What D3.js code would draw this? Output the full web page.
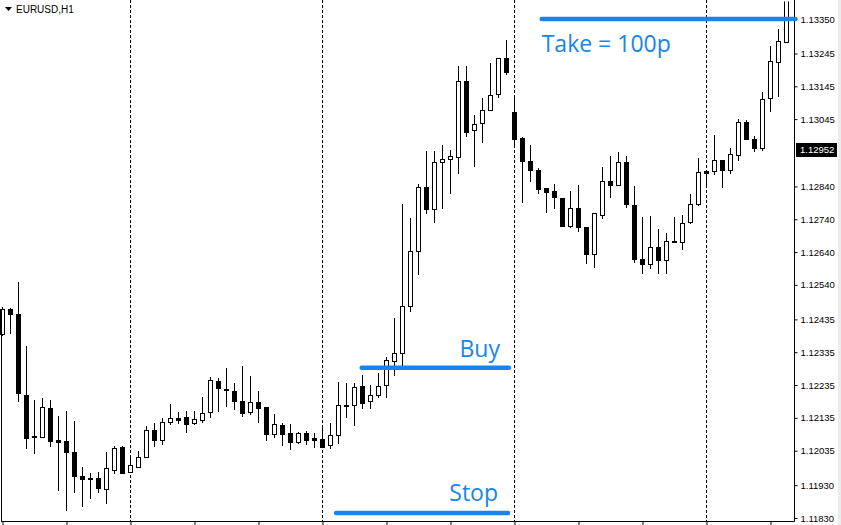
<!DOCTYPE html>
<html><head><meta charset="utf-8">
<script src="https://cdn.jsdelivr.net/npm/d3@7/dist/d3.min.js"></script>
<style>body{margin:0;background:#fff}svg{display:block}</style>
</head><body>
<svg id="c" width="841" height="525"></svg>
<script>
const symbolLabel = "EURUSD,H1";
const opens  = [1.12391,1.12467,1.12451,1.12205,1.12081,1.12078,1.12165,1.12068,1.12065,1.12031,1.11957,1.11952,1.11952,1.11919,1.11976,1.12046,1.11969,1.11986,1.12017,1.12098,1.12067,1.12121,1.12134,1.12137,1.12120,1.12129,1.12152,1.12246,1.12222,1.12216,1.12185,1.12154,1.12182,1.12167,1.12087,1.12112,1.12089,1.12062,1.12089,1.12075,1.12070,1.12051,1.12082,1.12171,1.12173,1.12231,1.12185,1.12204,1.12234,1.12308,1.12332,1.12475,1.12642,1.12837,1.12772,1.12913,1.12923,1.12929,1.13160,1.13011,1.13032,1.13074,1.13121,1.13230,1.13066,1.12987,1.12918,1.12890,1.12834,1.12826,1.12804,1.12720,1.12773,1.12716,1.12635,1.12754,1.12856,1.12843,1.12913,1.12782,1.12618,1.12603,1.12655,1.12615,1.12670,1.12670,1.12731,1.12786,1.12886,1.12886,1.12920,1.12889,1.12935,1.13035,1.12984,1.12956,1.13108,1.13219,1.13279];
const highs  = [1.12473,1.12471,1.12550,1.12354,1.12189,1.12196,1.12189,1.12142,1.12156,1.12125,1.11984,1.11966,1.11970,1.12031,1.12049,1.12049,1.12017,1.12035,1.12110,1.12119,1.12134,1.12177,1.12153,1.12156,1.12156,1.12199,1.12260,1.12256,1.12286,1.12240,1.12293,1.12263,1.12216,1.12167,1.12147,1.12119,1.12116,1.12092,1.12095,1.12089,1.12106,1.12118,1.12243,1.12240,1.12240,1.12265,1.12234,1.12272,1.12320,1.12438,1.12786,1.12743,1.12847,1.12948,1.12948,1.12965,1.12951,1.13207,1.13207,1.13058,1.13108,1.13216,1.13230,1.13286,1.13118,1.12990,1.12965,1.12895,1.12834,1.12846,1.12804,1.12826,1.12844,1.12716,1.12758,1.12898,1.12932,1.12944,1.12932,1.12840,1.12746,1.12749,1.12709,1.12697,1.12746,1.12752,1.12816,1.12926,1.12886,1.12997,1.12920,1.12956,1.13044,1.13041,1.12993,1.13127,1.13267,1.13319,1.13440];
const lows   = [1.12387,1.12394,1.12187,1.12044,1.12027,1.12076,1.12050,1.11915,1.11854,1.11910,1.11867,1.11892,1.11908,1.11877,1.11968,1.11966,1.11969,1.11986,1.12017,1.12050,1.12056,1.12115,1.12118,1.12093,1.12116,1.12121,1.12139,1.12156,1.12172,1.12162,1.12142,1.12147,1.12123,1.12069,1.12078,1.12053,1.12041,1.12058,1.12056,1.12047,1.12045,1.12042,1.12059,1.12137,1.12114,1.12166,1.12166,1.12199,1.12200,1.12267,1.12296,1.12461,1.12574,1.12758,1.12733,1.12775,1.12821,1.12882,1.12995,1.12901,1.12976,1.13074,1.13113,1.13182,1.12959,1.12793,1.12857,1.12821,1.12763,1.12775,1.12720,1.12716,1.12705,1.12608,1.12596,1.12745,1.12809,1.12843,1.12778,1.12611,1.12577,1.12591,1.12577,1.12577,1.12670,1.12649,1.12728,1.12782,1.12841,1.12877,1.12839,1.12880,1.12920,1.12984,1.12947,1.12950,1.13069,1.13115,1.13279];
const closes = [1.12467,1.12450,1.12212,1.12075,1.12076,1.12168,1.12065,1.12062,1.12032,1.11959,1.11950,1.11949,1.11920,1.11981,1.12042,1.11966,1.11991,1.12015,1.12098,1.12067,1.12122,1.12134,1.12129,1.12117,1.12131,1.12150,1.12249,1.12225,1.12219,1.12185,1.12151,1.12182,1.12166,1.12087,1.12116,1.12087,1.12062,1.12089,1.12069,1.12067,1.12047,1.12082,1.12173,1.12174,1.12230,1.12181,1.12204,1.12233,1.12310,1.12332,1.12475,1.12642,1.12837,1.12772,1.12913,1.12923,1.12932,1.13160,1.13007,1.13030,1.13074,1.13118,1.13230,1.13189,1.12984,1.12916,1.12889,1.12833,1.12822,1.12807,1.12720,1.12773,1.12716,1.12635,1.12758,1.12856,1.12843,1.12913,1.12786,1.12618,1.12603,1.12655,1.12615,1.12673,1.12673,1.12728,1.12786,1.12883,1.12880,1.12920,1.12889,1.12938,1.13035,1.12984,1.12956,1.13105,1.13221,1.13282,1.13420];
const priceTicks = [1.13350,1.13245,1.13145,1.13045,1.12840,1.12740,1.12640,1.12540,1.12435,1.12335,1.12235,1.12135,1.12035,1.11930,1.11830];
const currentPrice = 1.12952;
const separators = [16,40,64,88];
const timeTicks = [0,8,16,24,32,40,48,56,64,72,80,88,96];
const levelNames  = ["Take = 100p","Buy","Stop"];
const levelPrices = [1.13350,1.12288,1.11845];
const levelFrom   = [67.4,44.9,41.7];
const levelTo     = [99.1,63.3,63.2];

const svg = d3.select("#c");
const W = 841, H = 525;
const plotRight = 794.5, plotBottom = 521.5, plotTop = 1.5;
const x = d3.scaleLinear().domain([0, 98]).range([2.5, 786.5]);
const y = d3.scaleLinear().domain([1.11830, 1.13350]).range([518, 19]);
const blue = "#1685f0";

svg.append("rect").attr("x",838).attr("y",0).attr("width",3).attr("height",H).attr("fill","#ececec");

svg.append("defs").append("clipPath").attr("id","pc")
  .append("rect").attr("x",0).attr("y",plotTop).attr("width",plotRight).attr("height",plotBottom-plotTop);

// separators
svg.append("g").selectAll("line").data(separators).join("line")
  .attr("x1",d=>x(d)).attr("x2",d=>x(d)).attr("y1",0).attr("y2",plotBottom)
  .attr("stroke","#000").attr("stroke-width",1).attr("stroke-dasharray","3,2");

const candles = d3.range(opens.length).map(i=>({i,o:opens[i],h:highs[i],l:lows[i],c:closes[i]}));
const g = svg.append("g").attr("clip-path","url(#pc)");
g.selectAll("line.w").data(candles).join("line").attr("class","w")
  .attr("x1",d=>x(d.i)).attr("x2",d=>x(d.i))
  .attr("y1",d=>Math.round(y(d.h))).attr("y2",d=>Math.round(y(d.l))+1)
  .attr("stroke","#000").attr("stroke-width",1);
g.selectAll("rect.bull").data(candles.filter(d=>d.c>=d.o)).join("rect").attr("class","bull")
  .attr("x",d=>x(d.i)-2).attr("width",4)
  .attr("y",d=>Math.round(y(d.c))+0.5)
  .attr("height",d=>Math.max(0,Math.round(y(d.o))-Math.round(y(d.c))))
  .attr("fill","#fff").attr("stroke","#000").attr("stroke-width",1);
g.selectAll("rect.bear").data(candles.filter(d=>d.c<d.o)).join("rect").attr("class","bear")
  .attr("x",d=>x(d.i)-2.5).attr("width",5)
  .attr("y",d=>Math.round(y(d.o)))
  .attr("height",d=>Math.max(1,Math.round(y(d.c))-Math.round(y(d.o))+1))
  .attr("fill","#000");

// frame pieces
svg.append("line").attr("x1",plotRight).attr("x2",plotRight).attr("y1",0).attr("y2",plotBottom).attr("stroke","#000");
svg.append("line").attr("x1",1.5).attr("x2",1.5).attr("y1",Math.round(y(closes[0])) ).attr("y2",plotBottom).attr("stroke","#000");

// bottom axis
const xa = svg.append("g").attr("transform",`translate(0,${plotBottom})`)
  .call(d3.axisBottom(x).tickValues(timeTicks).tickSize(4).tickSizeOuter(0).tickFormat(""));
xa.select(".domain").attr("d",`M1,0H${plotRight}`).attr("stroke","#000");
xa.selectAll(".tick line").attr("stroke","#000");

// right axis
const ya = svg.append("g").attr("transform",`translate(${plotRight},0)`)
  .call(d3.axisRight(y).tickValues(priceTicks).tickSize(3).tickPadding(3).tickFormat(d3.format(".5f")));
ya.select(".domain").remove();
ya.selectAll(".tick line").attr("stroke","#000");
ya.selectAll(".tick text").attr("font-family","Liberation Sans, Arial, sans-serif").attr("font-size",9.5).attr("fill","#000");

// current price label
const cy = Math.round(y(currentPrice));
svg.append("rect").attr("x",plotRight+1.5).attr("y",cy-7).attr("width",41).attr("height",14).attr("fill","#000");
svg.append("text").attr("x",plotRight+5.5).attr("y",cy).attr("dy","0.34em").text(d3.format(".5f")(currentPrice))
  .attr("font-family","Liberation Sans, Arial, sans-serif").attr("font-size",9.5).attr("fill","#fff");

// trade levels
const lv = levelNames.map((n,i)=>({n,p:levelPrices[i],a:levelFrom[i],b:levelTo[i]}));
svg.append("g").selectAll("line").data(lv).join("line")
  .attr("x1",d=>x(d.a)).attr("x2",d=>x(d.b)).attr("y1",d=>y(d.p)).attr("y2",d=>y(d.p))
  .attr("stroke",blue).attr("stroke-width",4.5).attr("stroke-linecap","round");
const lt = svg.append("g").attr("font-family","Open Sans, Noto Sans, sans-serif").attr("font-size",23).attr("fill",blue);
lt.append("text").attr("x",x(lv[0].a)).attr("y",y(lv[0].p)+33).text(lv[0].n);
lt.append("text").attr("x",500).attr("text-anchor","end").attr("y",y(lv[1].p)-11).text(lv[1].n);
lt.append("text").attr("x",498).attr("text-anchor","end").attr("y",y(lv[2].p)-12).text(lv[2].n);

// symbol header
svg.append("path").attr("d","M5,7H12L8.5,11Z").attr("fill","#000");
svg.append("text").attr("x",16).attr("y",9.5).attr("dy","0.35em").text(symbolLabel)
  .attr("font-family","Liberation Sans, Arial, sans-serif").attr("font-size",10).attr("fill","#000");
</script>
</body></html>
